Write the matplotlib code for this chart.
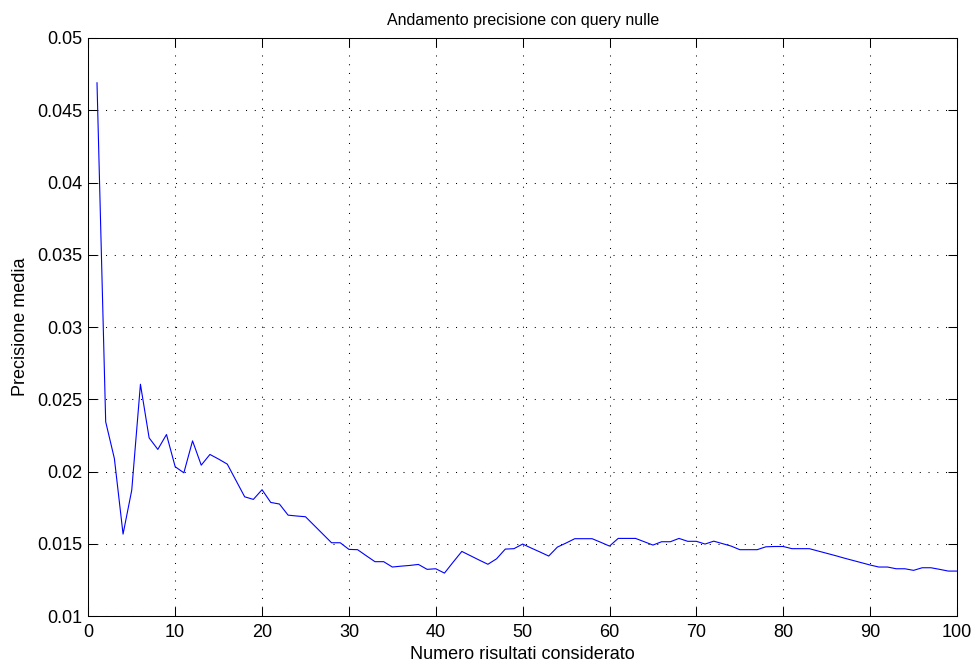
import matplotlib
matplotlib.use("Agg")
import matplotlib.pyplot as plt

plt.rcParams['font.family'] = ['Liberation Sans', 'DejaVu Sans']
plt.rcParams['lines.scale_dashes'] = False

# Number of results considered (1..100)
n_results = list(range(1, 101))

# Mean precision for each number of results
precision = [
    0.0469, 0.02344, 0.0209, 0.01567, 0.01871, 0.02604, 0.02233, 0.02153, 0.02256, 0.02033,
    0.01991, 0.02212, 0.02044, 0.02118, 0.02086, 0.02051, 0.01938, 0.01825, 0.01807, 0.01874,
    0.01786, 0.01775, 0.01698, 0.01692, 0.01687, 0.01627, 0.01567, 0.01507, 0.01507, 0.01461,
    0.01459, 0.01417, 0.01376, 0.01376, 0.01339, 0.01345, 0.01350, 0.01357, 0.01323, 0.01327,
    0.01297, 0.01373, 0.01447, 0.01417, 0.01387, 0.01358, 0.01396, 0.01463, 0.01466, 0.01498,
    0.01470, 0.01443, 0.01415, 0.01477, 0.01505, 0.01535, 0.01535, 0.01535, 0.01510, 0.01484,
    0.01537, 0.01537, 0.01537, 0.01514, 0.01491, 0.01514, 0.01514, 0.01537, 0.01517, 0.01517,
    0.01498, 0.01518, 0.01501, 0.01484, 0.01459, 0.01459, 0.01459, 0.01479, 0.01481, 0.01481,
    0.01466, 0.01466, 0.01466, 0.01450, 0.01434, 0.01418, 0.01401, 0.01385, 0.01369, 0.01353,
    0.01339, 0.01339, 0.01327, 0.01327, 0.01316, 0.01334, 0.01334, 0.01323, 0.01311, 0.01311,
]

x_ticks = [0, 10, 20, 30, 40, 50, 60, 70, 80, 90, 100]
y_ticks = [0.01, 0.015, 0.02, 0.025, 0.03, 0.035, 0.04, 0.045, 0.05]
y_tick_labels = ['0.01', '0.015', '0.02', '0.025', '0.03', '0.035', '0.04', '0.045', '0.05']

fig = plt.figure(figsize=(9.78, 6.69), dpi=100)
ax = fig.add_axes([0.0903, 0.0792, 0.9785 - 0.0903, 0.9432 - 0.0792])

ax.plot(n_results, precision, color=(0, 0, 1), linewidth=0.8)

ax.set_xlim(0, 100)
ax.set_ylim(0.01, 0.05)
ax.set_xticks(x_ticks)
ax.set_yticks(y_ticks)
ax.set_yticklabels(y_tick_labels)

ax.grid(True, color='black', linestyle=(0, (0.75, 5.55)), linewidth=0.75)
ax.tick_params(direction='in', length=6.5, width=0.75, labelsize=13,
               top=True, right=True, colors='black')
ax.tick_params(axis='x', pad=6)
ax.tick_params(axis='y', pad=4)
for s in ax.spines.values():
    s.set_linewidth(0.75)
    s.set_color('black')

ax.set_title('Andamento precisione con query nulle', fontsize=11.5, pad=9)
ax.set_xlabel('Numero risultati considerato', fontsize=13, labelpad=3)
ax.set_ylabel('Precisione media', fontsize=13, labelpad=6)

fig.savefig('out.png', dpi=100)
